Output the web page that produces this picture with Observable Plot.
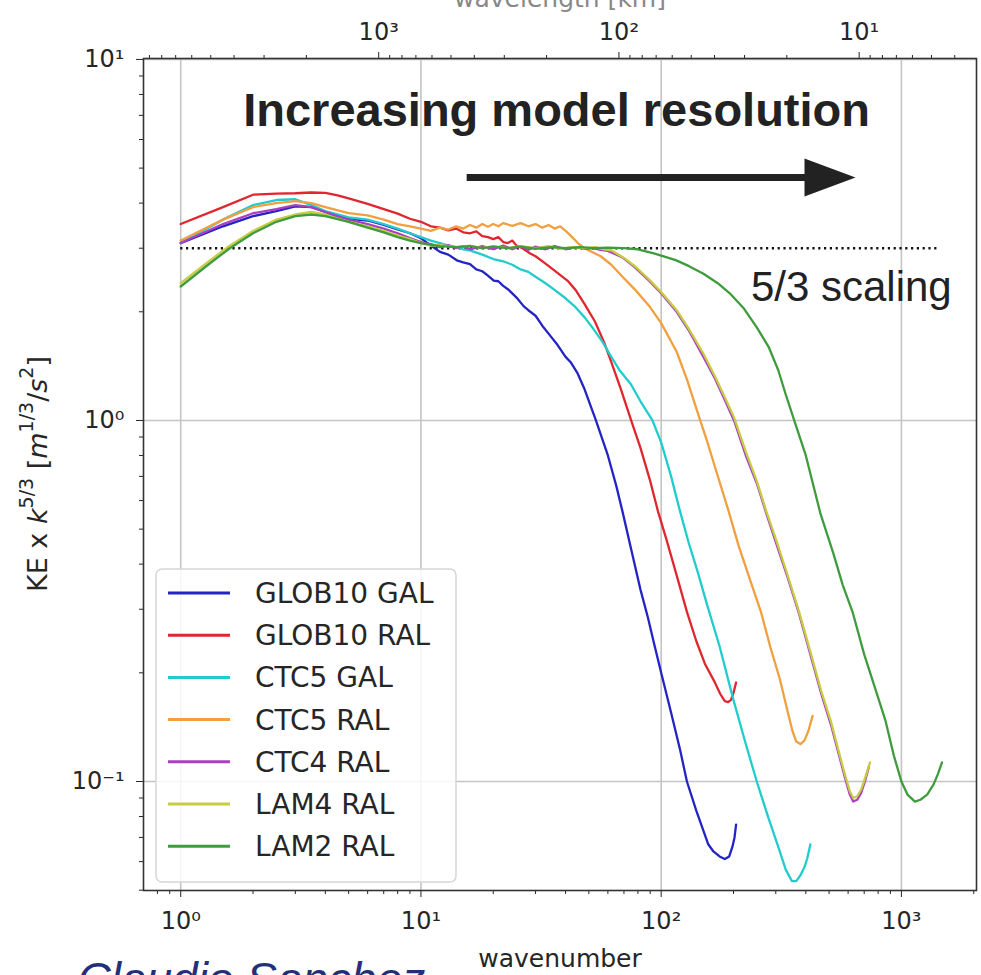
<!DOCTYPE html>
<html>
<head>
<meta charset="utf-8">
<script src="https://cdn.jsdelivr.net/npm/d3@7"></script>
<script src="https://cdn.jsdelivr.net/npm/@observablehq/plot@0.6"></script>
<style>
  html, body { margin: 0; padding: 0; background: #fff; overflow: hidden; }
  #chart { position: relative; width: 981px; height: 975px; }
</style>
</head>
<body>
<div id="chart"></div>
<script>
// ---------------- data ----------------
const seriesNames = ["GLOB10 GAL", "GLOB10 RAL", "CTC5 GAL", "CTC5 RAL", "CTC4 RAL", "LAM4 RAL", "LAM2 RAL"];
const seriesColors = ["#2424c4", "#e0262e", "#22cccc", "#f0a040", "#a840c0", "#c8cc44", "#3e9c3e"];

// [wavenumber, KE x k^(5/3)]
const glob10GAL = [[1,3.1],[1.5,3.45],[2,3.68],[2.5,3.8],[3,3.92],[3.5,3.9],[4,3.78],[4.5,3.66],[5,3.62],[6,3.58],[7,3.48],[8,3.38],[9,3.3],[10,3.2],[11,3.05],[12,2.93],[13,2.88],[14.2,2.77],[15,2.74],[16,2.71],[17,2.62],[18,2.59],[19,2.52],[20.1,2.44],[21,2.43],[22,2.36],[23,2.31],[24,2.25],[25,2.19],[26.8,2.07],[28,2.02],[30,1.95],[32,1.83],[34.7,1.71],[37,1.62],[40,1.5],[42,1.45],[44.9,1.35],[48,1.22],[53.5,1.0],[60,0.8],[65,0.66],[69,0.56],[75,0.44],[82,0.34],[88,0.285],[94,0.237],[100,0.2],[110,0.155],[120,0.122],[128,0.1],[140,0.083],[150,0.073],[157,0.067],[165,0.064],[175,0.062],[184,0.061],[192,0.062],[198,0.066],[202,0.07],[205,0.076]];
const glob10RAL = [[1,3.5],[1.5,3.9],[2,4.22],[2.5,4.25],[3,4.26],[3.5,4.28],[4,4.27],[4.5,4.2],[5,4.12],[6,3.98],[7,3.85],[8,3.74],[9,3.62],[10,3.55],[11,3.45],[12,3.42],[13,3.36],[14,3.4],[15,3.32],[16,3.3],[17,3.34],[18,3.24],[19,3.22],[20,3.18],[21,3.22],[22,3.12],[23,3.1],[24,3.15],[25,3.05],[26.5,3.0],[28.5,2.9],[30,2.85],[33,2.72],[36,2.6],[40.7,2.44],[44,2.3],[48,2.1],[53,1.88],[58,1.64],[62,1.45],[68,1.22],[75,1.0],[82,0.84],[90,0.68],[97,0.56],[105,0.47],[115,0.38],[128,0.295],[140,0.245],[152,0.212],[166,0.19],[176,0.175],[184,0.167],[190,0.166],[195,0.168],[200,0.176],[205,0.188]];
const ctc5GAL = [[1,3.1],[1.5,3.6],[2,3.95],[2.5,4.08],[3,4.1],[3.5,3.95],[4,3.8],[5,3.65],[6,3.6],[7,3.5],[8,3.4],[9,3.3],[10,3.22],[11,3.15],[12,3.1],[13,3.05],[14,3.02],[15,2.98],[16,2.96],[18,2.88],[20,2.8],[22,2.76],[24,2.7],[26,2.62],[28,2.58],[30,2.5],[33,2.4],[36,2.3],[40,2.18],[44,2.06],[48,1.93],[52,1.8],[57,1.65],[62,1.5],[67,1.38],[74.8,1.26],[82,1.13],[92,1.0],[100,0.87],[110,0.7],[119,0.57],[130,0.46],[142,0.38],[155,0.31],[175,0.237],[200,0.168],[225,0.127],[250,0.1],[280,0.079],[307,0.066],[330,0.057],[350,0.053],[365,0.053],[380,0.055],[395,0.058],[405,0.061],[418,0.067]];
const ctc5RAL = [[1,3.15],[1.5,3.6],[2,3.9],[2.5,4.0],[3,4.05],[3.5,4.0],[4,3.9],[5,3.75],[6,3.7],[7,3.6],[8,3.5],[9,3.45],[10,3.4],[11,3.35],[12,3.42],[13,3.38],[14,3.45],[15,3.4],[16,3.48],[17,3.42],[18,3.5],[19,3.44],[20,3.5],[21,3.45],[22,3.52],[24,3.46],[26,3.52],[28,3.45],[30,3.5],[32,3.42],[34,3.48],[36,3.4],[38,3.45],[40,3.35],[42,3.25],[45,3.1],[48,3.0],[56,2.85],[62,2.7],[69,2.5],[78,2.3],[89,2.08],[100,1.86],[116,1.55],[128,1.3],[142,1.05],[155,0.88],[170,0.72],[191,0.56],[210,0.45],[235,0.36],[261,0.293],[285,0.235],[312,0.192],[337,0.155],[352,0.138],[365,0.129],[380,0.127],[395,0.13],[410,0.138],[427,0.152]];
const ctc4RAL = [[1,3.1],[1.5,3.5],[2,3.75],[2.5,3.85],[3,3.95],[3.5,3.9],[4,3.78],[5,3.6],[6,3.5],[7,3.4],[8,3.3],[9,3.2],[10,3.12],[11,3.08],[12,3.02],[13,3.06],[14,3.0],[15,3.04],[16,2.98],[18,3.04],[20,2.98],[22,3.05],[24,2.98],[26,3.04],[28,2.97],[30,3.03],[33,2.98],[36,3.04],[40,2.98],[44,3.02],[48,2.99],[52,3.0],[56,2.97],[60,2.95],[69,2.83],[78,2.65],[89,2.44],[100,2.25],[116,2.0],[130,1.78],[150,1.5],[168,1.3],[185,1.13],[201,1.0],[225,0.8],[250,0.67],[274,0.553],[300,0.46],[335,0.37],[374,0.293],[420,0.222],[465,0.174],[510,0.143],[545,0.121],[581,0.103],[610,0.092],[630,0.088],[655,0.089],[680,0.093],[705,0.1],[733,0.11]];
const lam4RAL = [[1,2.4],[1.3,2.75],[1.6,3.05],[2,3.35],[2.5,3.6],[3,3.72],[3.5,3.78],[4,3.72],[5,3.55],[6,3.45],[7,3.35],[8,3.25],[9,3.18],[10,3.1],[11,3.05],[12,3.06],[14,3.02],[16,3.05],[18,3.0],[20,3.04],[23,3.0],[26,3.04],[30,3.0],[34,3.04],[38,2.99],[43,3.02],[48,3.0],[53,3.02],[58,2.98],[62,2.96],[70,2.82],[78,2.67],[89,2.46],[100,2.27],[116,2.02],[130,1.8],[150,1.53],[168,1.32],[185,1.15],[201,1.02],[225,0.82],[250,0.68],[274,0.56],[300,0.47],[335,0.375],[374,0.297],[420,0.226],[465,0.177],[510,0.146],[545,0.123],[581,0.105],[610,0.094],[630,0.09],[655,0.091],[680,0.095],[705,0.102],[740,0.113]];
const lam2RAL = [[1,2.35],[1.3,2.7],[1.6,3.0],[2,3.3],[2.5,3.55],[3,3.68],[3.5,3.72],[4,3.68],[5,3.55],[6,3.42],[7,3.32],[8,3.22],[9,3.15],[10,3.1],[12,3.04],[14,3.02],[16,3.04],[18,3.0],[20,3.03],[23,3.0],[26,3.03],[30,2.99],[35,3.02],[40,3.0],[46,3.02],[52,3.0],[60,3.01],[70,3.0],[80,2.98],[94,2.9],[115,2.78],[130,2.68],[150,2.55],[172,2.4],[193,2.25],[220,2.05],[250,1.81],[280,1.6],[307,1.38],[330,1.18],[358,1.0],[400,0.8],[460,0.553],[520,0.43],[570,0.35],[628,0.293],[700,0.225],[780,0.18],[857,0.148],[930,0.118],[1000,0.1],[1060,0.092],[1138,0.088],[1200,0.089],[1280,0.092],[1360,0.098],[1420,0.105],[1476,0.113]];
const seriesValues = [glob10GAL, glob10RAL, ctc5GAL, ctc5RAL, ctc4RAL, lam4RAL, lam2RAL];

// axis ticks
const xMajor = [1, 10, 100, 1000];
const xMinor = [0.8, 0.9, 2,3,4,5,6,7,8,9, 20,30,40,50,60,70,80,90, 200,300,400,500,600,700,800,900, 2000];
const yMajor = [0.1, 1, 10];
const yMinor = [0.05,0.06,0.07,0.08,0.09, 0.2,0.3,0.4,0.5,0.6,0.7,0.8,0.9, 2,3,4,5,6,7,8,9];
const waveConst = 6670; // wavelength [km] = waveConst / wavenumber
const wavelengthMajor = [1000, 100, 10];
const wavelengthMinor = [9000,8000,7000,6000,5000,4000,3000,2000, 900,800,700,600,500,400,300,200, 90,80,70,60,50,40,30,20, 9,8,7,6,5,4];

// annotations
const scalingLevel = [{y: 3.0, x1: 1, x2: 1450}];
const arrowData = [{x1: 15.5, x2: 400, y: 4.71}];
const arrowHeadData = [{x: 395, y: 4.71}];
const titleNote = [{x: 36.7, y: 7.2, text: "Increasing model resolution"}];
const scalingNote = [{x: 1620, y: 2.34, text: "5/3 scaling"}];

// ---------------- build ----------------
const rows = [];
seriesValues.forEach((arr, i) => arr.forEach(([k, v]) => rows.push({series: seriesNames[i], k, v})));

const supMap = {"-": "\u207B", "0": "\u2070", "1": "\u00B9", "2": "\u00B2", "3": "\u00B3", "4": "\u2074", "5": "\u2075"};
const pow10 = (e) => "10" + String(e).split("").map(c => supMap[c]).join("");
const fmtK = (d) => pow10(Math.round(Math.log10(d)));

const arrowHead = {
  draw(ctx) {
    ctx.moveTo(0, -19);
    ctx.lineTo(51, 0);
    ctx.lineTo(0, 19);
    ctx.closePath();
  }
};

const W = 981, H = 975;
const mL = 143, mR = 5, mT = 58, mB = 85;
const ink = "#262626";

const chart = Plot.plot({
  width: W,
  height: H,
  marginLeft: mL,
  marginRight: mR,
  marginTop: mT,
  marginBottom: mB,
  style: {fontFamily: "DejaVu Sans, sans-serif", fontSize: "24px", color: ink, background: "#fff", overflow: "visible"},
  x: {type: "log", domain: [0.70, 2054]},
  y: {type: "log", domain: [0.0499, 10.06]},
  color: {domain: seriesNames, range: seriesColors},
  marks: [
    Plot.gridX(xMajor, {stroke: "#c4c4c4", strokeOpacity: 1, strokeWidth: 1.6}),
    Plot.gridY(yMajor, {stroke: "#c4c4c4", strokeOpacity: 1, strokeWidth: 1.6}),
    // bottom axis
    Plot.axisX(xMajor, {anchor: "bottom", tickSize: 7, tickPadding: 14, tickFormat: fmtK, label: null, fontSize: 24, stroke: ink, fill: ink}),
    Plot.axisX(xMinor, {anchor: "bottom", tickSize: 4, tickFormat: () => "", label: null, stroke: ink}),
    // left axis
    Plot.axisY(yMajor, {anchor: "left", tickSize: 7, tickPadding: 12, tickFormat: fmtK, label: null, fontSize: 24, stroke: ink, fill: ink}),
    Plot.axisY(yMinor, {anchor: "left", tickSize: 4, tickFormat: () => "", label: null, stroke: ink}),
    // top secondary axis (wavelength)
    Plot.axisX(wavelengthMajor.map(l => waveConst / l), {anchor: "top", tickSize: 7, tickFormat: () => "", label: null, stroke: ink}),
    Plot.axisX(wavelengthMinor.map(l => waveConst / l), {anchor: "top", tickSize: 4, tickFormat: () => "", label: null, stroke: ink}),
    Plot.text(wavelengthMajor, {x: d => waveConst / d, text: d => pow10(Math.round(Math.log10(d))), frameAnchor: "top", lineAnchor: "bottom", dy: -19, fontSize: 24, fill: ink}),
    // reference line
    Plot.ruleY(scalingLevel, {y: "y", x1: "x1", x2: "x2", stroke: "#111", strokeWidth: 2.6, strokeDasharray: "2.2,3.6"}),
    // spectra
    Plot.line(rows, {x: "k", y: "v", z: "series", stroke: "series", strokeWidth: 2.3, strokeLinejoin: "round"}),
    // annotations
    Plot.link(arrowData, {x1: "x1", x2: "x2", y1: "y", y2: "y", stroke: "#222", strokeWidth: 7}),
    Plot.dot(arrowHeadData, {x: "x", y: "y", symbol: arrowHead, fill: "#222", stroke: "none", r: 10}),
    Plot.text(titleNote, {x: "x", y: "y", text: "text", fontFamily: "Liberation Sans, Arial, sans-serif", fontWeight: "bold", fontSize: 47, fill: "#222", textAnchor: "middle"}),
    Plot.text(scalingNote, {x: "x", y: "y", text: "text", fontFamily: "Liberation Sans, Arial, sans-serif", fontSize: 42, fill: "#222", textAnchor: "end"}),
    // axis titles and credit
    Plot.text(["wavenumber"], {frameAnchor: "bottom", dy: 76, fontSize: 25, fill: ink}),
    Plot.text(["wavelength [km]"], {frameAnchor: "top", dy: -69, fontSize: 25, fill: "#888"}),
    Plot.text(["Claudio Sanchez"], {frameAnchor: "bottom-left", dx: -66, dy: 104, textAnchor: "start", fontFamily: "Liberation Sans, Arial, sans-serif", fontStyle: "italic", fontSize: 46, fill: "#22307a"}),
    Plot.frame({stroke: "#333", strokeWidth: 1.6})
  ]
});

document.getElementById("chart").appendChild(chart);

// y-axis title with super-scripts
const svg = d3.select(chart);
const yl = svg.append("text")
  .attr("transform", "translate(37,474) rotate(-90)")
  .attr("text-anchor", "middle")
  .attr("dominant-baseline", "central")
  .attr("font-family", "DejaVu Sans, sans-serif")
  .attr("font-size", 27)
  .attr("fill", ink);
const part = (t, o = {}) => {
  const s = yl.append("tspan").text(t);
  if (o.italic) s.attr("font-style", "italic");
  if (o.sup) s.attr("font-size", 19);
  if (o.dy) s.attr("dy", o.dy);
};
part("KE x ");
part("k", {italic: true});
part("5/3", {sup: true, dy: -11});
part(" [", {dy: 11});
part("m", {italic: true});
part("1/3", {sup: true, dy: -11});
part("/", {dy: 11});
part("s", {italic: true});
part("2", {sup: true, dy: -11});
part("]", {dy: 11});

// legend (matplotlib style box)
const lg = svg.append("g").attr("font-family", "DejaVu Sans, sans-serif").attr("font-size", 28).attr("text-anchor", "start");
lg.append("rect").attr("x", 156).attr("y", 569).attr("width", 300).attr("height", 313)
  .attr("rx", 6).attr("fill", "#fff").attr("fill-opacity", 0.85).attr("stroke", "#d6d6d6").attr("stroke-width", 1.5);
seriesNames.forEach((name, i) => {
  const y = 593 + i * 42.2;
  lg.append("line").attr("x1", 168).attr("x2", 230).attr("y1", y).attr("y2", y)
    .attr("stroke", seriesColors[i]).attr("stroke-width", 3);
  lg.append("text").attr("x", 255).attr("y", y).attr("dy", "0.36em").attr("text-anchor", "start").attr("fill", ink).text(name);
});
</script>
</body>
</html>
